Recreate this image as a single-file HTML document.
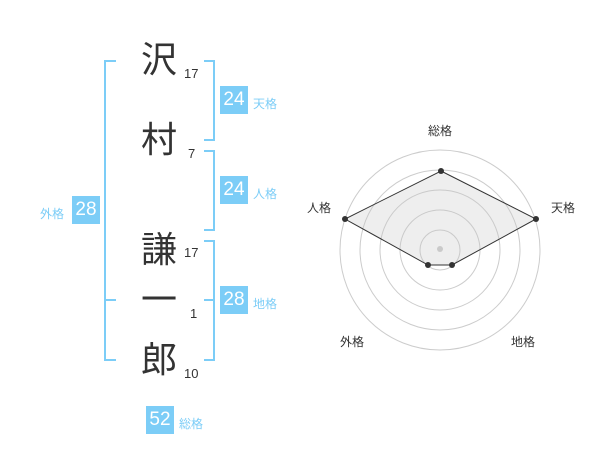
<!DOCTYPE html><html><head><meta charset="utf-8"><style>
body{margin:0;width:600px;height:470px;background:#fff;position:relative;font-family:"Liberation Sans","Noto Sans CJK JP",sans-serif;overflow:hidden}
.k{position:absolute;font-size:36px;color:#333;line-height:1;width:40px;text-align:center}
.n{position:absolute;font-size:13px;color:#333}
.b{position:absolute;background:#7ccdf7;color:#fff;font-size:19px;width:28px;height:28px;line-height:28px;text-align:center}
.l{position:absolute;font-size:12px;color:#7ccdf7}
.v{position:absolute;background:#7ccdf7}
</style></head><body>
<div class="k" style="left:139px;top:42px">沢</div>
<div class="k" style="left:139px;top:122px">村</div>
<div class="k" style="left:139px;top:232px">謙</div>
<div class="k" style="left:139px;top:282px">一</div>
<div class="k" style="left:139px;top:342px">郎</div>
<div class="n" style="left:184px;top:66px">17</div>
<div class="n" style="left:188px;top:146px">7</div>
<div class="n" style="left:184px;top:245px">17</div>
<div class="n" style="left:190px;top:306px">1</div>
<div class="n" style="left:184px;top:366px">10</div>
<!-- left bracket -->
<div class="v" style="left:104px;top:60px;width:2px;height:301px"></div>
<div class="v" style="left:104px;top:60px;width:12px;height:2px"></div>
<div class="v" style="left:104px;top:299px;width:12px;height:2px"></div>
<div class="v" style="left:104px;top:359px;width:12px;height:2px"></div>
<!-- right brackets -->
<div class="v" style="left:213px;top:60px;width:2px;height:81px"></div>
<div class="v" style="left:204px;top:60px;width:11px;height:2px"></div>
<div class="v" style="left:204px;top:139px;width:11px;height:2px"></div>
<div class="v" style="left:213px;top:150px;width:2px;height:81px"></div>
<div class="v" style="left:204px;top:150px;width:11px;height:2px"></div>
<div class="v" style="left:204px;top:229px;width:11px;height:2px"></div>
<div class="v" style="left:213px;top:240px;width:2px;height:121px"></div>
<div class="v" style="left:204px;top:240px;width:11px;height:2px"></div>
<div class="v" style="left:204px;top:299px;width:11px;height:2px"></div>
<div class="v" style="left:204px;top:359px;width:11px;height:2px"></div>
<div class="b" style="left:72px;top:196px">28</div><div class="l" style="left:40px;top:205px">外格</div>
<div class="b" style="left:220px;top:86px">24</div><div class="l" style="left:253px;top:95px">天格</div>
<div class="b" style="left:220px;top:176px">24</div><div class="l" style="left:253px;top:185px">人格</div>
<div class="b" style="left:220px;top:286px">28</div><div class="l" style="left:253px;top:295px">地格</div>
<div class="b" style="left:146px;top:406px">52</div><div class="l" style="left:179px;top:415px">総格</div>
<svg width="600" height="470" style="position:absolute;left:0;top:0">
<g fill="none" stroke="#ccc" stroke-width="1">
<circle cx="440" cy="250" r="100"/><circle cx="440" cy="250" r="80"/><circle cx="440" cy="250" r="60"/><circle cx="440" cy="250" r="40"/><circle cx="440" cy="250" r="20"/></g>
<circle cx="440" cy="249" r="3" fill="#ccc"/>
<polygon points="441,171 536,219 452,265 428,265 345,219" fill="rgba(200,200,200,0.3)" stroke="#333" stroke-width="1"/>
<g fill="#333"><circle cx="441" cy="171" r="3"/><circle cx="536" cy="219" r="3"/><circle cx="452" cy="265" r="3"/><circle cx="428" cy="265" r="3"/><circle cx="345" cy="219" r="3"/></g>
<g font-size="12" fill="#333" text-anchor="middle" font-family="Liberation Sans,Noto Sans CJK JP,sans-serif">
<text x="440" y="135">総格</text><text x="563" y="212">天格</text><text x="319" y="212">人格</text><text x="352" y="346">外格</text><text x="523" y="346">地格</text></g>
</svg>
</body></html>
